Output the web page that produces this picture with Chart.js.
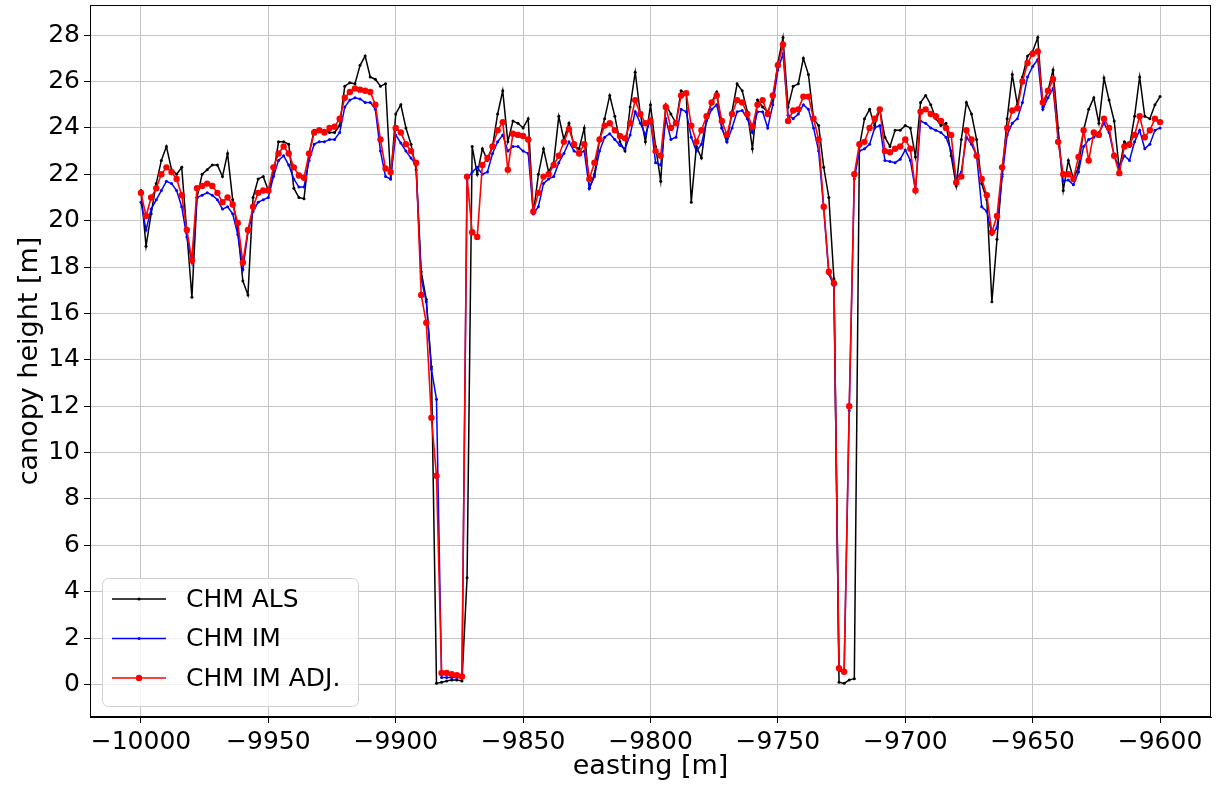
<!DOCTYPE html>
<html><head><meta charset="utf-8">
<script src="https://cdn.jsdelivr.net/npm/chart.js@4.4.1/dist/chart.umd.min.js"></script>
<style>html,body{margin:0;padding:0;background:#fff}#wrap{width:1220px;height:787px}</style>
</head><body><div id="wrap"><canvas id="c" width="1220" height="787"></canvas></div>
<script>
const easting = [
-10000,-9998,-9996,-9994,-9992,-9990,-9988,-9986,-9984,-9982,
-9980,-9978,-9976,-9974,-9972,-9970,-9968,-9966,-9964,-9962,
-9960,-9958,-9956,-9954,-9952,-9950,-9948,-9946,-9944,-9942,
-9940,-9938,-9936,-9934,-9932,-9930,-9928,-9926,-9924,-9922,
-9920,-9918,-9916,-9914,-9912,-9910,-9908,-9906,-9904,-9902,
-9900,-9898,-9896,-9894,-9892,-9890,-9888,-9886,-9884,-9882,
-9880,-9878,-9876,-9874,-9872,-9870,-9868,-9866,-9864,-9862,
-9860,-9858,-9856,-9854,-9852,-9850,-9848,-9846,-9844,-9842,
-9840,-9838,-9836,-9834,-9832,-9830,-9828,-9826,-9824,-9822,
-9820,-9818,-9816,-9814,-9812,-9810,-9808,-9806,-9804,-9802,
-9800,-9798,-9796,-9794,-9792,-9790,-9788,-9786,-9784,-9782,
-9780,-9778,-9776,-9774,-9772,-9770,-9768,-9766,-9764,-9762,
-9760,-9758,-9756,-9754,-9752,-9750,-9748,-9746,-9744,-9742,
-9740,-9738,-9736,-9734,-9732,-9730,-9728,-9726,-9724,-9722,
-9720,-9718,-9716,-9714,-9712,-9710,-9708,-9706,-9704,-9702,
-9700,-9698,-9696,-9694,-9692,-9690,-9688,-9686,-9684,-9682,
-9680,-9678,-9676,-9674,-9672,-9670,-9668,-9666,-9664,-9662,
-9660,-9658,-9656,-9654,-9652,-9650,-9648,-9646,-9644,-9642,
-9640,-9638,-9636,-9634,-9632,-9630,-9628,-9626,-9624,-9622,
-9620,-9618,-9616,-9614,-9612,-9610,-9608,-9606,-9604,-9602,
-9600];

const chmALS = [
21.3,18.9,20.3,21.6,22.6,23.2,22.2,22.0,22.3,19.5,
16.7,21.0,22.0,22.2,22.4,22.4,21.9,22.9,20.9,19.6,
17.4,16.8,21.0,21.8,21.9,21.3,22.0,23.4,23.4,23.3,
21.4,21.0,20.95,22.9,23.9,23.9,23.9,23.8,23.8,24.1,
25.8,25.95,25.9,26.7,27.1,26.2,26.1,25.8,25.9,21.8,
24.6,25.0,24.0,23.3,22.2,17.8,16.6,13.7,0.05,0.1,
0.15,0.2,0.2,0.15,4.6,23.2,22.0,23.1,22.6,23.2,
24.6,25.6,23.4,24.3,24.2,24.0,24.4,20.3,22.0,23.1,
22.1,22.5,24.5,23.5,24.2,23.2,23.1,24.0,21.4,22.0,
23.5,24.4,25.4,24.5,23.4,23.0,24.9,26.4,24.6,23.4,
25.0,23.2,21.7,25.0,24.6,24.2,25.6,25.5,20.8,23.2,
22.7,24.4,25.1,25.55,24.0,23.4,24.7,25.9,25.6,24.7,
23.1,25.2,24.9,24.7,25.2,26.8,27.9,24.9,25.8,25.9,
27.0,26.3,24.4,24.1,22.3,21.0,17.5,0.1,0.05,0.2,
0.25,23.2,24.4,24.8,24.1,24.8,23.6,23.2,23.9,23.9,
24.1,24.0,22.75,25.1,25.4,25.0,24.4,24.1,24.2,22.8,
21.5,23.5,25.1,24.6,23.5,21.6,20.9,16.5,19.2,22.0,
24.4,26.3,25.0,26.2,27.1,27.3,27.9,24.9,25.6,26.5,
24.0,21.3,22.6,21.8,22.3,23.9,24.8,25.3,24.2,26.15,
25.2,24.3,22.2,23.4,23.2,24.5,26.2,24.5,24.4,25.0,
25.35];

const chmIM = [
20.8,19.6,20.5,20.9,21.3,21.7,21.6,21.3,20.6,19.3,
18.2,21.0,21.1,21.2,21.1,20.9,20.5,20.6,20.3,19.4,
17.9,19.5,20.4,20.8,20.9,21.0,21.9,22.6,22.8,22.4,
21.8,21.45,21.45,22.6,23.3,23.4,23.4,23.5,23.5,23.8,
24.9,25.2,25.3,25.25,25.1,25.1,24.8,23.0,21.9,21.8,
23.7,23.35,23.0,22.7,22.4,17.5,16.5,13.6,12.3,0.3,
0.3,0.3,0.3,0.3,21.8,22.1,22.3,22.0,22.1,22.9,
23.4,23.7,23.0,23.2,23.2,23.0,22.9,20.3,20.6,21.6,
21.8,21.9,22.5,22.9,23.4,23.0,22.9,23.0,21.4,21.9,
23.0,23.6,23.75,23.5,23.25,23.1,23.7,24.7,24.2,23.7,
24.35,22.5,22.4,24.4,23.5,23.6,24.8,24.7,23.6,23.0,
23.3,24.3,24.8,25.0,24.0,23.4,24.0,24.7,24.75,24.4,
23.8,24.7,24.7,24.0,25.0,26.5,27.2,24.55,24.4,24.6,
25.0,24.8,24.0,23.0,20.5,17.7,17.2,0.6,0.5,11.8,
21.8,23.0,23.1,23.3,24.0,24.1,22.6,22.55,22.5,22.65,
23.05,22.6,21.3,24.3,24.2,24.0,23.9,23.8,23.6,23.0,
21.8,22.1,23.6,23.3,22.8,20.6,20.4,19.4,19.7,21.9,
23.7,24.2,24.4,25.1,26.2,26.65,26.95,24.8,25.3,25.7,
23.6,21.7,21.75,21.55,22.1,23.2,23.5,23.6,23.8,24.2,
23.8,22.8,22.3,22.8,22.6,23.4,23.9,23.1,23.3,23.9,
24.0];

const chmIMAdj = [
21.2,20.2,21.0,21.4,22.0,22.3,22.1,21.8,21.1,19.6,
18.3,21.4,21.5,21.6,21.5,21.2,20.8,21.0,20.7,19.9,
18.2,19.6,20.6,21.2,21.3,21.3,22.3,22.9,23.2,22.9,
22.3,21.95,21.85,22.9,23.8,23.9,23.8,24.0,24.05,24.4,
25.3,25.55,25.7,25.65,25.6,25.55,25.0,23.5,22.25,22.1,
24.0,23.8,23.3,23.0,22.5,16.8,15.6,11.5,9.0,0.5,
0.5,0.45,0.4,0.35,21.9,19.5,19.3,22.4,22.7,23.2,
23.9,24.25,22.2,23.75,23.7,23.65,23.5,20.4,21.2,21.9,
22.0,22.4,22.8,23.4,23.95,23.3,22.9,23.3,21.8,22.5,
23.5,24.1,24.2,23.9,23.65,23.55,24.2,25.2,24.6,24.2,
24.3,23.0,22.8,24.9,24.0,24.2,25.4,25.5,24.1,23.4,
23.9,24.5,25.1,25.4,24.3,23.7,24.6,25.2,25.1,24.6,
24.05,25.0,25.2,24.6,25.4,26.7,27.6,24.3,24.75,24.8,
25.35,25.35,24.4,23.5,20.6,17.8,17.3,0.7,0.55,12.0,
22.0,23.3,23.4,24.0,24.4,24.8,23.0,22.95,23.1,23.2,
23.5,23.1,21.3,24.7,24.8,24.6,24.5,24.3,24.0,23.7,
21.65,21.9,23.9,23.5,22.8,21.8,21.1,19.5,20.2,22.3,
24.0,24.75,24.85,26.0,26.8,27.2,27.3,25.1,25.6,26.1,
23.4,22.0,22.0,21.8,22.75,23.9,22.6,23.8,23.7,24.4,
24.0,22.8,22.05,23.2,23.3,23.7,24.5,23.6,23.9,24.4,
24.25];

const xTicks = [-10000,-9950,-9900,-9850,-9800,-9750,-9700,-9650,-9600];
const yTicks = [0,2,4,6,8,10,12,14,16,18,20,22,24,26,28];
const seriesLabels = ['CHM ALS','CHM IM','CHM IM ADJ.'];
const xTitle = 'easting [m]';
const yTitle = 'canopy height [m]';

const FONT = '"DejaVu Sans", sans-serif';
function fmt(v){ return v < 0 ? '\u2212' + Math.abs(v) : String(v); }

const framePlugin = {
  id: 'frame',
  afterDraw(chart){
    const {ctx, chartArea: a} = chart;
    ctx.save();
    ctx.strokeStyle = '#000';
    ctx.lineWidth = 1;
    ctx.strokeRect(Math.round(a.left) + 0.5, Math.round(a.top) + 0.5,
                   Math.round(a.right - a.left) - 1, Math.round(a.bottom - a.top) - 1);
    ctx.restore();
  }
};

const legendPlugin = {
  id: 'innerLegend',
  afterDraw(chart){
    const {ctx, chartArea: a} = chart;
    const x0 = a.left + 12, y0 = a.bottom - 139, w = 256, h = 128;
    ctx.save();
    ctx.beginPath();
    if (ctx.roundRect) ctx.roundRect(x0 + 0.5, y0 + 0.5, w, h, 6); else ctx.rect(x0 + 0.5, y0 + 0.5, w, h);
    ctx.fillStyle = 'rgba(255,255,255,0.8)';
    ctx.fill();
    ctx.strokeStyle = '#d0d0d0';
    ctx.lineWidth = 1;
    ctx.stroke();
    chart.data.datasets.forEach((ds, i) => {
      const cy = y0 + 21 + i * 39.5;
      ctx.strokeStyle = ds.borderColor;
      ctx.lineWidth = ds.borderWidth;
      ctx.beginPath();
      ctx.moveTo(x0 + 10, cy);
      ctx.lineTo(x0 + 64, cy);
      ctx.stroke();
      ctx.fillStyle = ds.borderColor;
      ctx.beginPath();
      ctx.arc(x0 + 37, cy, ds.pointRadius, 0, Math.PI * 2);
      ctx.fill();
      ctx.fillStyle = '#000';
      ctx.font = '25px ' + FONT;
      ctx.textBaseline = 'middle';
      ctx.textAlign = 'left';
      ctx.fillText(ds.label, x0 + 84, cy + 1);
    });
    ctx.restore();
  }
};

function mkData(vals){ return easting.map((x, i) => ({x: x, y: vals[i]})); }

new Chart(document.getElementById('c').getContext('2d'), {
  type: 'line',
  data: {
    datasets: [
      {label: seriesLabels[0], data: mkData(chmALS), borderColor: '#000000', backgroundColor: '#000000',
       pointBackgroundColor: '#000000', borderWidth: 1.5, pointRadius: 1.5, pointBorderWidth: 0, tension: 0, order: 3},
      {label: seriesLabels[1], data: mkData(chmIM), borderColor: '#0000ff', backgroundColor: '#0000ff',
       pointBackgroundColor: '#0000ff', borderWidth: 1.5, pointRadius: 1.5, pointBorderWidth: 0, tension: 0, order: 2},
      {label: seriesLabels[2], data: mkData(chmIMAdj), borderColor: '#ff0000', backgroundColor: '#ff0000',
       pointBackgroundColor: '#ff0000', borderWidth: 1.6, pointRadius: 3.2, pointBorderWidth: 0, tension: 0, order: 1}
    ]
  },
  options: {
    responsive: false, animation: false, devicePixelRatio: 1,
    layout: {padding: {left: 0, right: 9, top: 5, bottom: 0}},
    plugins: {legend: {display: false}, tooltip: {enabled: false}},
    scales: {
      x: {
        type: 'linear', min: -10020, max: -9580,
        afterBuildTicks: s => { s.ticks = xTicks.map(v => ({value: v})); },
        afterFit: s => { s.height = 70; s.paddingLeft = 0; s.paddingRight = 0; },
        ticks: {autoSkip: false, maxRotation: 0, minRotation: 0, padding: 4, color: '#000',
                font: {family: FONT, size: 25}, callback: v => fmt(v)},
        grid: {color: '#c4c4c4', lineWidth: 1, tickLength: 6, tickColor: '#000', drawTicks: true},
        border: {display: true, color: '#000', width: 1},
        title: {display: true, text: xTitle, color: '#000', font: {family: FONT, size: 27}, padding: {top: 0, bottom: 4}}
      },
      y: {
        type: 'linear', min: -1.4, max: 29.3,
        afterBuildTicks: s => { s.ticks = yTicks.map(v => ({value: v})); },
        afterFit: s => { s.width = 90; s.paddingTop = 0; s.paddingBottom = 0; },
        ticks: {autoSkip: false, padding: 4, color: '#000', font: {family: FONT, size: 25}, callback: v => fmt(v)},
        grid: {color: '#c4c4c4', lineWidth: 1, tickLength: 6, tickColor: '#000', drawTicks: true},
        border: {display: true, color: '#000', width: 1},
        title: {display: true, text: yTitle, color: '#000', font: {family: FONT, size: 27}, padding: {top: 14, bottom: 0}}
      }
    }
  },
  plugins: [framePlugin, legendPlugin]
});
</script>
</body></html>
